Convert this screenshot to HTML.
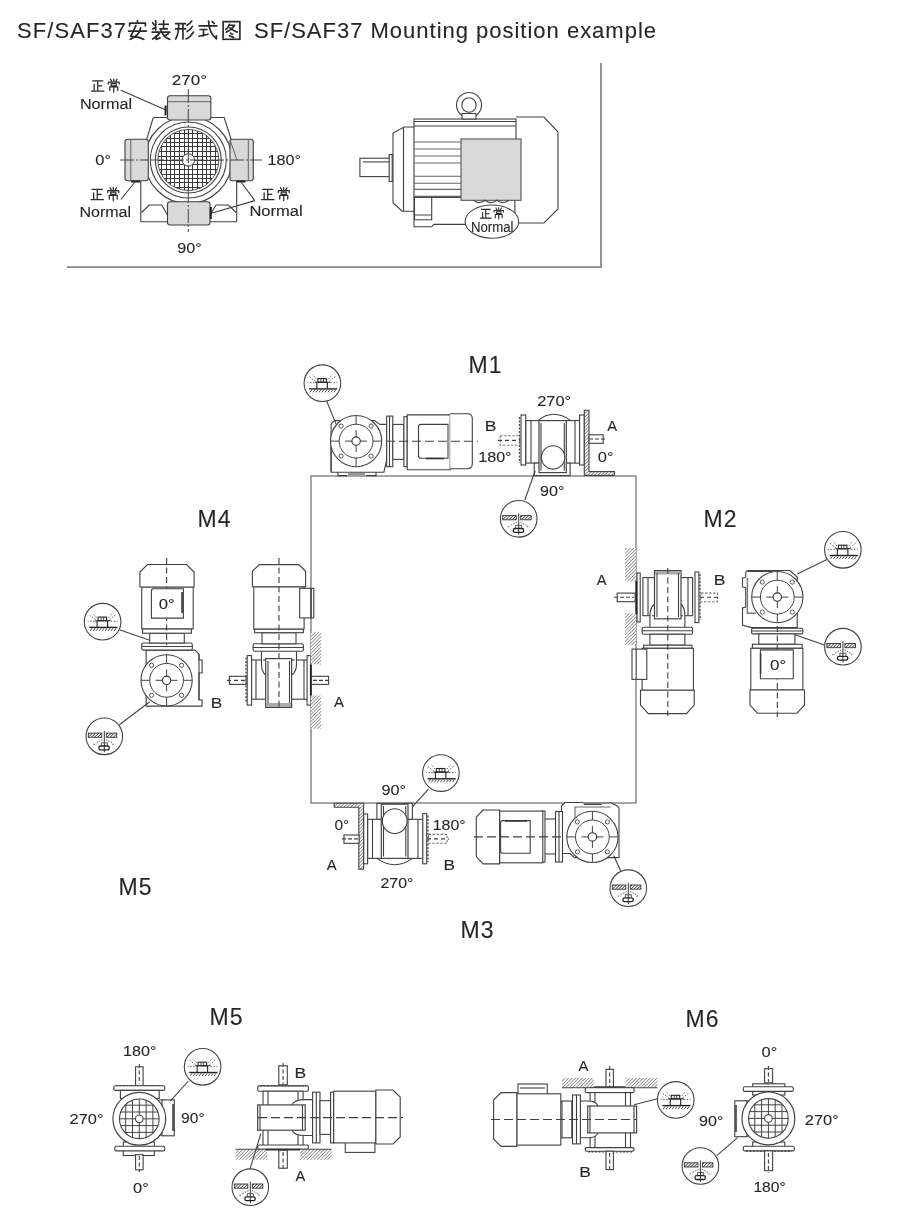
<!DOCTYPE html>
<html><head><meta charset="utf-8">
<style>
html,body{margin:0;padding:0;background:#fff;width:900px;height:1217px;overflow:hidden}
svg{display:block;will-change:transform}
text{font-family:"Liberation Sans",sans-serif;fill:#262626;stroke:#262626;stroke-width:0.1}
.l{fill:none;stroke:#404040;stroke-width:1.1}
.t{fill:none;stroke:#444;stroke-width:1.3}
.f{fill:#fff;stroke:#555;stroke-width:1}
.g{fill:#d9d9d9;stroke:#404040;stroke-width:1.1}
.d{fill:none;stroke:#555;stroke-width:1;stroke-dasharray:7 4}
.cj{fill:none;stroke:#2a2a2a;stroke-width:1.6;stroke-linecap:round;stroke-linejoin:round}
</style></head><body>
<svg width="900" height="1217" viewBox="0 0 900 1217">
<defs>
<pattern id="hatch2" patternUnits="userSpaceOnUse" width="2.2" height="2.2" patternTransform="rotate(45)"><rect width="2.2" height="2.2" fill="#fff"/><path d="M0 0V2.2" stroke="#333" stroke-width="1.5"/></pattern>
<pattern id="hatch" patternUnits="userSpaceOnUse" width="2.4" height="2.4" patternTransform="rotate(45)"><rect width="2.4" height="2.4" fill="#fff"/><path d="M0 0V2.4" stroke="#444" stroke-width="1.05"/></pattern>

<symbol id="c-an" viewBox="0 0 20 20"><path class="cj" d="M10 1V3.5M2.5 6V3.5H17.5V6M8.5 5.5Q7 10 3.5 16Q11 16 16 19M13 8Q12 15 3 19M1.5 11H18.5"/></symbol>
<symbol id="c-zh" viewBox="0 0 20 20"><path class="cj" d="M5 1V10M2 3L3.5 5M2 9L5 7.5M8 4.5H17M12.5 1V9M9 9H16M10 10V11.5M1.5 12H18.5M9 12Q7 16 2 18.5M5.5 15.5V19L9 17.5M11 12.5Q13 17 18.5 19M17 13.5L13 16"/></symbol>
<symbol id="c-xi" viewBox="0 0 20 20"><path class="cj" d="M1.5 4H11M1.5 9H11M4.5 4Q4.5 14 1.5 18.5M8.5 4V18.5M17 1.5Q15 4 12.5 5.5M17.5 6.5Q15.5 10 12.5 11.5M18.5 12Q16 16.5 11.5 18.5"/></symbol>
<symbol id="c-sh" viewBox="0 0 20 20"><path class="cj" d="M1.5 6H18.5M10.5 1.5Q11 13 18 18.5V15.5M14 2L16 4M2.5 9.5H9M5.7 9.5V15.5M1.5 16L10 14"/></symbol>
<symbol id="c-tu" viewBox="0 0 20 20"><path class="cj" d="M2 2H18V19H2ZM8 4.5Q7 8 4.5 9.5M8 5.5H13Q10 10 5 12M8.5 8Q12 11 15.5 12M9 13L11 14M8 15.5L12 17"/></symbol>
<symbol id="c-zheng" viewBox="0 0 20 20"><path class="cj" style="stroke-width:1.75" d="M3 3H17M10 3V17M10 10H15.5M5 8V17M1.5 17H18.5"/></symbol>
<symbol id="c-chang" viewBox="0 0 20 20"><path class="cj" style="stroke-width:1.75" d="M10 1V4M5.5 1.5L7 4M14.5 1.5L13 4M2.5 8V5.5H17.5V8M6.5 7.5H13.5V10.5H6.5ZM4.5 17V12H15.5V17M10 10.5V19.5"/></symbol>
<symbol id="vent" viewBox="-20 -20 40 40" overflow="visible">
<circle cx="0" cy="0" r="18.3" fill="#fff" stroke="#444" stroke-width="1.1"/>
<path d="M-13.3 5.7H14.8" stroke="#222" stroke-width="1.4" fill="none"/>
<path d="M-12.5 9.2L-10.5 6.5M-9.5 9.2L-7.5 6.5M-6.5 9.2L-4.5 6.5M-3.5 9.2L-1.5 6.5M-0.5 9.2L1.5 6.5M2.5 9.2L4.5 6.5M5.5 9.2L7.5 6.5M8.5 9.2L10.5 6.5M11.5 9.2L13.5 6.5" stroke="#555" stroke-width="1" fill="none"/>
<path d="M-5.5 5.6V-1H5V5.6M-7.5 -1H8" stroke="#222" stroke-width="1.1" fill="none"/>
<rect x="-4.5" y="-4.6" width="8.5" height="3.6" fill="none" stroke="#222" stroke-width="1.1"/>
<path d="M-1.5 -4.6V-1M1 -4.6V-1" stroke="#333" stroke-width="0.9" fill="none"/>
<path d="M-7 -2L-13 -6.5M-8 -0.5L-15 -0.5M-6 -4L-10 -9M7 -2L13 -7M8 -0.5L15 -0.5M6 -4L10 -9" stroke="#666" stroke-width="1" stroke-dasharray="1.5 1.5" fill="none"/>
</symbol>
<symbol id="drain" viewBox="-20 -20 40 40" overflow="visible">
<circle cx="0" cy="0" r="18.3" fill="#fff" stroke="#444" stroke-width="1.1"/>
<rect x="-16" y="-3.2" width="13.5" height="4.2" fill="url(#hatch2)" stroke="#333" stroke-width="0.9"/>
<rect x="2" y="-3.2" width="10.5" height="4.2" fill="url(#hatch2)" stroke="#333" stroke-width="0.9"/>
<path d="M0 -5.5V16" stroke="#333" stroke-width="1" fill="none"/>
<rect x="-5.4" y="9.7" width="10.3" height="3.8" rx="1.6" fill="none" stroke="#222" stroke-width="1.3"/>
<path d="M-3 6.5V9.7M3 6.5V9.7M-3 6.5H3" stroke="#444" stroke-width="0.9" fill="none"/>
<path d="M-4 4.5L-9 7M4 4.5L9 7M-11 8H-8M8 8H11M-2 3L-3 5M2 3L3 5" stroke="#666" stroke-width="1" stroke-dasharray="1.5 1.2" fill="none"/>
</symbol>
<symbol id="flg" viewBox="-30 -30 60 60" overflow="visible">
<circle r="25.6" fill="#fff" stroke="#444" stroke-width="1.1"/>
<circle r="16.9" fill="none" stroke="#444" stroke-width="1"/>
<path d="M0 -25.6V-16.9M0 16.9V25.6M-25.6 0H-16.9M16.9 0H25.6M0 -11V11M-11 0H11" stroke="#444" stroke-width="1" fill="none"/>
<circle r="4.2" fill="#fff" stroke="#333" stroke-width="1.1"/>
<g fill="#fff" stroke="#444" stroke-width="0.9"><circle cx="-15" cy="-15" r="2.1"/><circle cx="15" cy="-15" r="2.1"/><circle cx="-15" cy="15" r="2.1"/><circle cx="15" cy="15" r="2.1"/></g>
</symbol>
</defs>

<!-- TITLE -->
<g id="title">
<text x="17" y="38" font-size="22" textLength="109" lengthAdjust="spacing">SF/SAF37</text>
<use href="#c-an" x="127" y="19.5" width="21" height="21"/>
<use href="#c-zh" x="150.5" y="19.5" width="21" height="21"/>
<use href="#c-xi" x="174" y="19.5" width="21" height="21"/>
<use href="#c-sh" x="197.5" y="19.5" width="21" height="21"/>
<use href="#c-tu" x="221" y="19.5" width="21" height="21"/>
<text x="254" y="38" font-size="22" textLength="402" lengthAdjust="spacing">SF/SAF37 Mounting position example</text>
</g>

<!-- TOP FRAME -->
<path d="M67 267.2H601V63" fill="none" stroke="#888" stroke-width="1.8"/>

<!-- BIG SQUARE -->
<rect x="311" y="476" width="325" height="327" fill="none" stroke="#777" stroke-width="1.3"/>

<!-- M LABELS -->
<g font-size="23" letter-spacing="1">
<text x="468.5" y="373">M1</text>
<text x="197.5" y="527">M4</text>
<text x="703.5" y="527">M2</text>
<text x="118.5" y="894.5">M5</text>
<text x="460.5" y="937.5">M3</text>
<text x="209.5" y="1024.5">M5</text>
<text x="685.5" y="1027">M6</text>
</g>

<!-- TOP SECTION -->
<g id="tbdiag">
<clipPath id="gclip"><circle cx="188.3" cy="160" r="30.5"/></clipPath>
<path class="l" d="M153.3 117.5H224.2L237 158M153.3 117.5L146.7 139.2M140.8 181V221.7H167.5M210 221.7H236.7V181M141.7 212.5L149.2 205H161.7L167.5 215M236 212.5L228.5 205H216L210 215" stroke="#444"/>
<circle cx="188.3" cy="160" r="43.5" class="l" stroke="#555"/>
<circle cx="188.3" cy="160" r="38" fill="#fff" stroke="#444" stroke-width="1.1"/>
<circle cx="188.3" cy="160" r="33" fill="#fff" stroke="#444" stroke-width="1.1"/>
<g clip-path="url(#gclip)"><path d="M156.5 128.5V192.5M156.5 128.5H220.5M161.5 128.5V192.5M156.5 133.5H220.5M166.5 128.5V192.5M156.5 138.5H220.5M170.5 128.5V192.5M156.5 142.5H220.5M174.5 128.5V192.5M156.5 146.5H220.5M179.5 128.5V192.5M156.5 151.5H220.5M184.5 128.5V192.5M156.5 156.5H220.5M188.5 128.5V192.5M156.5 160.5H220.5M192.5 128.5V192.5M156.5 164.5H220.5M197.5 128.5V192.5M156.5 169.5H220.5M202.5 128.5V192.5M156.5 174.5H220.5M206.5 128.5V192.5M156.5 178.5H220.5M210.5 128.5V192.5M156.5 182.5H220.5M215.5 128.5V192.5M156.5 187.5H220.5M220.5 128.5V192.5M156.5 192.5H220.5" stroke="#3a3a3a" stroke-width="1" fill="none" shape-rendering="crispEdges"/></g>
<circle cx="188.3" cy="160" r="30.5" fill="none" stroke="#444" stroke-width="0.9"/>
<circle cx="188.3" cy="160" r="6.2" fill="#fff" stroke="#444" stroke-width="1"/>
<rect x="167.5" y="95.8" width="43.3" height="24.2" rx="2.5" class="g" stroke="#444"/>
<path d="M167.5 101.7H210.8" stroke="#555" stroke-width="0.9"/>
<rect x="125" y="139.2" width="23.3" height="41.6" rx="2.5" class="g" stroke="#444"/>
<path d="M130.8 139.2V180.8" stroke="#555" stroke-width="0.9"/>
<rect x="230" y="139.2" width="23.3" height="41.6" rx="2.5" class="g" stroke="#444"/>
<path d="M248.3 139.2V180.8M230 140L237 160" stroke="#555" stroke-width="0.9"/>
<rect x="167.5" y="201.7" width="42.5" height="23.3" rx="2.5" class="g" stroke="#444"/>
<path d="M188.3 89V232M120 160H148M150 160H262" stroke="#444" stroke-width="1" stroke-dasharray="14 2 2 2"/>
<path d="M165.6 105.5V115.5M131 181.5H140M236.5 181.5H245.5M210.8 207V219" stroke="#222" stroke-width="2"/>
<path class="l" stroke="#333" d="M120.9 90.3L167 110.5M120.9 199.5L135.3 181.5M254.8 200.6L240.7 181.5M254.8 200.6L211.3 213.3"/>
</g>
<g id="tblabels" font-size="14">
<use href="#c-zheng" x="90.5" y="78.7" width="14.5" height="14.5"/>
<use href="#c-chang" x="106.5" y="78.2" width="14.5" height="14.5"/>
<use href="#c-zheng" x="90.0" y="187.2" width="14.5" height="14.5"/>
<use href="#c-chang" x="106.0" y="186.7" width="14.5" height="14.5"/>
<use href="#c-zheng" x="260.5" y="187.2" width="14.5" height="14.5"/>
<use href="#c-chang" x="276.5" y="186.7" width="14.5" height="14.5"/>
</g>

<g id="motortop" stroke="#404040" stroke-width="1.1" fill="none">
<rect x="359.9" y="158.2" width="31" height="18.4" fill="#fff"/>
<path d="M363 161.9H389"/>
<rect x="389.2" y="154.6" width="3" height="26.9" fill="#fff"/>
<path d="M414 127H404L393 133V202.7L402.1 211.2H414" fill="#fff"/>
<path d="M403.5 127V211.2"/>
<path d="M516 117H544L558 132V209L544 223H516" fill="#fff"/>
<rect x="414" y="119" width="102" height="78.4" fill="#fff"/>
<path d="M414 121.5H516M414 126H516"/>
<path d="M414 142H461M414 149H461M414 156H461M414 163H461M414 176.2H461M414 183.2H461M414 189.4H461M414 196.4H461" stroke="#666"/>
<path d="M414 197V226.8H431.7L434 224.4H470M414.5 197.2V219.8H431.7V197.2M414.5 215H431.7M514.9 200V221"/>
<circle cx="469" cy="105" r="12.5" fill="#fff"/>
<circle cx="469" cy="105" r="7.2"/>
<rect x="462" y="113.5" width="14" height="5.5" fill="#fff"/>
<rect x="461" y="139" width="60" height="61.3" fill="#d9d9d9" stroke="#555"/>
<path d="M474 200.3Q479 205 485 200.3Q491 205 497 200.3Q503 205 509 200.3"/>
<ellipse cx="491.9" cy="221.6" rx="26.8" ry="16.6" fill="#fff" stroke="#444"/>
</g>
<g font-size="14">
<use href="#c-zheng" x="479.5" y="207.5" width="12.5" height="12.5"/>
<use href="#c-chang" x="492.5" y="207" width="12.5" height="12.5"/>
<text x="471" y="231.5" textLength="42.5" lengthAdjust="spacingAndGlyphs">Normal</text>
</g>

<!-- M1 -->
<g id="m1" stroke="#404040" stroke-width="1.1" fill="none">
<path d="M331.1 472.2V424L334.4 420.6H374.4L380 424.4H386.7V459.4L383.9 472.2Z" fill="#fff"/>
<path d="M331.1 446V471.7M338 472.2V475.6H347M366 475.6H376V472.2" />
<rect x="348" y="473" width="17" height="2.6" fill="#999" stroke="none"/>
<rect x="386.7" y="416.1" width="6.1" height="50.6" fill="#fff"/>
<path d="M389.5 416.1V466.7"/>
<rect x="392.8" y="424.4" width="11.1" height="35" fill="#fff"/>
<rect x="403.9" y="416.7" width="3.3" height="50" fill="#fff"/>
<path d="M407.2 414.9H450.2V469.8H407.2Z" fill="#fff"/>
<path d="M450.2 413.8H467.5Q472.3 413.8 472.3 419V463.5Q472.3 468.7 467.5 468.7H450.2" fill="#fff"/>
<path d="M421 424.4H448V458.2H421Q418.5 458.2 418.5 455.7V427Q418.5 424.4 421 424.4Z" fill="#fff"/>
<path d="M426 458.5H444" stroke="#333" stroke-width="1.6"/>
<path d="M386 441.3H478" stroke-dasharray="9 4"/>
<use href="#flg" x="326.1" y="411.1" width="60" height="60"/>
<path d="M326.7 401.2L336.2 424.4" stroke="#444"/>
<use href="#vent" x="302.4" y="363.2" width="40" height="40"/>
</g>
<g id="m1r" stroke="#404040" stroke-width="1.1" fill="none">
<path d="M538 420.6Q553 408 571 420.6" fill="#fff"/>
<rect x="525.7" y="420.6" width="53.9" height="42.5" fill="#fff"/>
<path d="M531 420.6V463.1M575 420.6V463.1"/>
<rect x="534.2" y="463.1" width="35.9" height="12.5" fill="#fff"/>
<rect x="539" y="420.6" width="27.3" height="52" fill="#fff" stroke="#444" stroke-width="1.2"/>
<path d="M541 423V470.5M564.3 423V470.5"/>
<circle cx="553.1" cy="457.4" r="11.7" fill="#fff"/>
<rect x="521" y="415" width="4.7" height="50" fill="#fff"/>
<path d="M519.5 417V463" stroke-dasharray="2 1.5" stroke="#444" stroke-width="1.3"/>
<rect x="500.2" y="435.7" width="19.8" height="9.5" stroke-dasharray="2.5 1.5" stroke="#777"/>
<path d="M498 440.4H520" stroke-dasharray="4 3"/>
<rect x="579.6" y="415" width="4.7" height="50" fill="#fff"/>
<path d="M584.3 410.2H589V471.6H614.5V475.4H584.3Z" fill="url(#hatch)" stroke="#444"/>
<rect x="589" y="434.8" width="14.2" height="8.5" fill="#fff"/>
<path d="M589 439H606" stroke-dasharray="4 2"/>
<path d="M524.8 500L535.2 470.7" stroke="#444"/>
<use href="#drain" x="498.7" y="498.8" width="40" height="40"/>
</g>


<!-- M4 -->
<g id="m4f" stroke="#404040" stroke-width="1.1" fill="none">
<path d="M146.1 650.1H195L199 654V660H202.1V673H199V700H202.1V706.1H146.1Z" fill="#fff"/>
<path d="M199 654V700"/>
<rect x="141.7" y="643" width="50.6" height="7.1" rx="1.5" fill="#fff"/>
<path d="M141.7 646.5H192.3"/>
<rect x="149.7" y="633.2" width="34.6" height="9.8" fill="#fff"/>
<rect x="142.6" y="628.8" width="48.8" height="4.4" fill="#fff"/>
<rect x="141.7" y="587" width="51.5" height="41.8" fill="#fff"/>
<path d="M147.5 564.5H186.6L194.1 572V587H139.9V572Z" fill="#fff"/>
<path d="M166.6 558V645" stroke-dasharray="6 3.5"/>
<path d="M153.5 588.8H183.4V618.1H151.4V591Q151.4 588.8 153.5 588.8Z" fill="#fff"/>
<path d="M182 592V613" stroke="#333" stroke-width="1.6"/>
<use href="#flg" x="136.6" y="650.3" width="60" height="60"/>
<path d="M119.4 629.7L149.7 640.3M119.4 724.8L149.7 701.7" stroke="#444"/>
<use href="#vent" x="82.6" y="601.7" width="40" height="40"/>
<use href="#drain" x="84.3" y="716.3" width="40" height="40"/>
</g>
<g id="m4s" stroke="#404040" stroke-width="1.1" fill="none">
<rect x="250.9" y="660" width="58.4" height="39.2" fill="#fff"/>
<path d="M256 660V699.2M304 660V699.2"/>
<path d="M261.5 651V664Q261.5 672 265.7 675M296.5 651V664Q296.5 672 291.6 675" fill="#fff"/>
<rect x="265.7" y="658.6" width="25.9" height="48.8" fill="#fff" stroke="#444" stroke-width="1.2"/>
<rect x="266.5" y="703" width="24.5" height="4" fill="#aaa" stroke="none"/>
<path d="M268 661V703M289.5 661V703"/>
<rect x="247.2" y="655.6" width="4.4" height="49.5" fill="#fff"/>
<path d="M246 657.5V703" stroke-dasharray="2 1.5" stroke="#444" stroke-width="1.3"/>
<rect x="229.4" y="676.3" width="16.6" height="8.1" fill="#fff"/>
<path d="M227 680.4H246" stroke-dasharray="4 3"/>
<rect x="307.1" y="655.6" width="3.7" height="49.5" fill="#fff"/>
<rect x="310.8" y="631.9" width="10.4" height="32.6" fill="url(#hatch)" stroke="none"/>
<rect x="310.8" y="695.5" width="10.4" height="33.3" fill="url(#hatch)" stroke="none"/>
<path d="M310.8 664.5V695.5" stroke="#222" stroke-width="1.8"/>
<rect x="311.5" y="676.3" width="17.1" height="8.1" fill="#fff"/>
<path d="M313 680.4H331" stroke-dasharray="4 2"/>
<rect x="253.1" y="643.8" width="50.3" height="7.4" rx="1.5" fill="#fff"/>
<path d="M253.1 647.5H303.4"/>
<rect x="262" y="632.7" width="34" height="11.1" fill="#fff"/>
<rect x="254.6" y="629" width="48.8" height="3.7" fill="#fff"/>
<rect x="253.8" y="586.8" width="50.3" height="42.2" fill="#fff"/>
<path d="M259.2 564.6H298.8L305.6 571.3V586.8H252.4V571.3Z" fill="#fff"/>
<rect x="299.7" y="588.3" width="14.1" height="29.6" fill="#fff"/>
<path d="M311 588.3V617.9" stroke="#333" stroke-width="1.6"/>
<path d="M279 558V708" stroke-dasharray="6 3.5"/>
</g>


<!-- M2 -->
<g id="m2s" stroke="#404040" stroke-width="1.1" fill="none">
<rect x="642.9" y="577.6" width="49.7" height="38.1" fill="#fff"/>
<path d="M648 577.6V615.7M688 577.6V615.7"/>
<path d="M649.9 627.3V616Q649.9 608 654.5 604M684.9 627.3V616Q684.9 608 681 604" fill="#fff"/>
<rect x="654.5" y="570.6" width="26.5" height="48.2" fill="#fff" stroke="#444" stroke-width="1.2"/>
<rect x="655" y="571" width="25.5" height="3.5" fill="#aaa" stroke="none"/>
<path d="M657 573V617M678.5 573V617"/>
<rect x="695" y="572" width="3.9" height="50.6" fill="#fff"/>
<path d="M700 574V620" stroke-dasharray="2 1.5" stroke="#444" stroke-width="1.3"/>
<rect x="701" y="593.1" width="16.5" height="8.6" stroke-dasharray="2.5 1.5" stroke="#777" fill="#fff"/>
<path d="M700 597.3H720" stroke-dasharray="4 3"/>
<rect x="637" y="572.9" width="3.2" height="49" fill="#fff"/>
<rect x="625" y="548" width="11" height="33.4" fill="url(#hatch)" stroke="none"/>
<rect x="625" y="613.3" width="11" height="32" fill="url(#hatch)" stroke="none"/>
<path d="M636.4 581V614" stroke="#222" stroke-width="1.8"/>
<rect x="617.2" y="593.1" width="17.9" height="8.6" fill="#fff"/>
<path d="M614 597.3H634" stroke-dasharray="4 2"/>
<rect x="642.1" y="627.3" width="50.5" height="7" rx="1.5" fill="#fff"/>
<path d="M642.1 630.8H692.6"/>
<rect x="649.9" y="634.3" width="35" height="10.9" fill="#fff"/>
<rect x="643.7" y="645.2" width="48.2" height="3.1" fill="#fff"/>
<rect x="642.1" y="648.3" width="51.3" height="42" fill="#fff"/>
<path d="M640.5 690.3H694.2V705L686.5 713.6H648.3L640.5 705Z" fill="#fff"/>
<rect x="632" y="649.1" width="14.8" height="30.3" fill="#fff"/>
<path d="M636.2 649.1V679.4" stroke="#555" stroke-width="1.3"/>
<path d="M667.8 568V716" stroke-dasharray="6 3.5"/>
</g>
<g id="m2f" stroke="#404040" stroke-width="1.1" fill="none">
<path d="M747.4 570.5H790L797.2 577V627.6H751.4L742.5 625V608L745.7 607V587.5L742.5 587V578L745.7 577.5V572.5Z" fill="#fff"/>
<path d="M747.4 571H772.8" stroke="#444" stroke-width="2"/>
<path d="M747.4 578V613.3H756" stroke="#777" stroke-width="1.4"/>
<rect x="751.6" y="628.3" width="51.3" height="5.6" rx="1.5" fill="#fff"/>
<path d="M751.6 631H802.9"/>
<rect x="758.8" y="633.9" width="36.1" height="10.4" fill="#fff"/>
<rect x="752.4" y="644.3" width="49.7" height="4" fill="#fff"/>
<rect x="750.8" y="648.3" width="52.1" height="41.7" fill="#fff"/>
<path d="M750 690H804.5V705L797 713.2H757.5L750 705Z" fill="#fff"/>
<path d="M777.3 626V717" stroke-dasharray="6 3.5"/>
<path d="M760.4 649.9H793.3V678.8H760.4Z" fill="#fff"/>
<path d="M760.6 653V674" stroke="#333" stroke-width="1.5"/>
<use href="#flg" x="747.3" y="567.1" width="60" height="60"/>
<path d="M826.9 559.4L797.3 573.9M824.5 645.1L794.9 634.7" stroke="#444"/>
<use href="#vent" x="822.9" y="529.8" width="40" height="40"/>
<use href="#drain" x="822.9" y="626.7" width="40" height="40"/>
</g>


<!-- M3 -->
<g id="m3l" stroke="#404040" stroke-width="1.1" fill="none">
<path d="M376.9 858.4Q394.7 871 412.4 858.4" fill="#fff"/>
<rect x="367.6" y="819.3" width="55.5" height="39.1" fill="#fff"/>
<path d="M372.5 819.3V858.4M418 819.3V858.4"/>
<rect x="376.9" y="803.3" width="35.5" height="16" fill="#fff"/>
<rect x="381.3" y="804.2" width="26.7" height="54.2" fill="#fff" stroke="#444" stroke-width="1.2"/>
<path d="M383.5 806V856.5M405.8 806V856.5"/>
<circle cx="394.7" cy="821.1" r="12.4" fill="#fff"/>
<rect x="422.8" y="813.6" width="3.9" height="50.2" fill="#fff"/>
<path d="M428 815.5V862" stroke-dasharray="2 1.5" stroke="#444" stroke-width="1.3"/>
<rect x="428.5" y="834.4" width="18.6" height="8.9" stroke-dasharray="2.5 1.5" stroke="#777" fill="#fff"/>
<path d="M427 838.9H449" stroke-dasharray="4 3"/>
<rect x="363.6" y="814" width="4" height="49.8" fill="#fff"/>
<path d="M334.2 803.3H363.6V869.1H358.8V807.2H334.2Z" fill="url(#hatch)" stroke="#444"/>
<rect x="344" y="835" width="15.1" height="8.3" fill="#fff"/>
<path d="M342 838.9H359" stroke-dasharray="4 2"/>
<path d="M428.4 789.1L412.4 806.9" stroke="#444"/>
<use href="#vent" x="420.9" y="753.1" width="40" height="40"/>
</g>
<g id="m3r" stroke="#404040" stroke-width="1.1" fill="none">
<path d="M561.5 811V806L565 802.5H583L584.5 804.5H601L602 802.5H610L617.5 806L619 808V857.6H574.5L570 853.5H561.5Z" fill="#fff"/>
<path d="M575 831V807H610.5" stroke="#666"/>
<path d="M601 803H610M583 803H601" stroke="#888" stroke-width="2"/>
<rect x="555.5" y="811.5" width="7" height="50.5" fill="#fff"/>
<path d="M559 811.5V862"/>
<rect x="544" y="819" width="11.5" height="35" fill="#fff"/>
<rect x="541.8" y="811" width="3.2" height="51" fill="#fff"/>
<rect x="499.6" y="811.1" width="43.2" height="51.7" fill="#fff"/>
<path d="M499.6 810H483L476.3 817V856.5L483 863.9H499.6Z" fill="#fff"/>
<path d="M502.6 820.6H530.2V853.3H502.6Q500.6 853.3 500.6 851V823Q500.6 820.6 502.6 820.6Z" fill="#fff"/>
<path d="M505 821H527" stroke="#333" stroke-width="1.5"/>
<path d="M474 836.9H562" stroke-dasharray="9 4"/>
<use href="#flg" x="562.4" y="806.9" width="60" height="60"/>
<path d="M620.9 871.3L613.6 855.4" stroke="#444"/>
<use href="#drain" x="608.3" y="868.2" width="40" height="40"/>
</g>


<!-- M5 bottom -->
<clipPath id="g5c"><circle cx="139.3" cy="1118.8" r="19.8"/></clipPath>
<clipPath id="g6c"><circle cx="768.4" cy="1118.4" r="19.8"/></clipPath>
<g id="m5l" stroke="#404040" stroke-width="1.1" fill="none">
<rect x="135.6" y="1066.8" width="7.5" height="18.9" fill="#fff"/>
<path d="M139.3 1064V1084" stroke-dasharray="4 2.5"/>
<rect x="113.8" y="1085.7" width="51" height="4.7" rx="1.5" fill="#fff"/>
<path d="M116 1085.5H162" stroke-dasharray="2 1.5" stroke="#444" stroke-width="1.2"/>
<rect x="120.4" y="1090.4" width="38.8" height="8" fill="#fff"/>
<rect x="123.3" y="1142" width="31.1" height="13.5" fill="#fff"/>
<rect x="114.8" y="1146.2" width="50" height="4.7" rx="1.5" fill="#fff"/>
<rect x="135.6" y="1154.7" width="7.5" height="15.1" fill="#fff"/>
<path d="M139.3 1156V1172" stroke-dasharray="4 2.5"/>
<path d="M159 1100H165V1135H159" fill="#fff"/>
<rect x="162" y="1099.9" width="12.3" height="35.9" fill="#fff"/>
<path d="M173 1104V1131" stroke="#333" stroke-width="1.5"/>
<circle cx="139.3" cy="1118.8" r="26.4" fill="#fff" stroke="#444" stroke-width="1.2"/>
<circle cx="139.3" cy="1118.8" r="19.8" fill="#fff" stroke="#444" stroke-width="1.1"/>
<g clip-path="url(#g5c)"><path d="M118.9 1098.0V1139.6M118.5 1098.4H160.1M125.7 1098.0V1139.6M118.5 1105.2H160.1M132.5 1098.0V1139.6M118.5 1112.0H160.1M139.3 1098.0V1139.6M118.5 1118.8H160.1M146.1 1098.0V1139.6M118.5 1125.6H160.1M152.9 1098.0V1139.6M118.5 1132.4H160.1M159.7 1098.0V1139.6M118.5 1139.2H160.1" stroke="#444" stroke-width="1"/></g>
<circle cx="139.3" cy="1118.8" r="3.8" fill="#fff" stroke="#444"/>
<path d="M188.4 1081L170.5 1100.8" stroke="#444"/>
<use href="#vent" x="182.6" y="1046.8" width="40" height="40"/>
</g>
<g id="m5r" stroke="#404040" stroke-width="1.1" fill="none">
<rect x="278.8" y="1065.8" width="8.5" height="19" fill="#fff"/>
<path d="M283.1 1063V1084" stroke-dasharray="4 2.5"/>
<rect x="257.7" y="1085.9" width="50.7" height="5.3" rx="1.5" fill="#fff"/>
<path d="M260 1085.7H306" stroke-dasharray="2 1.5" stroke="#444" stroke-width="1.2"/>
<rect x="263" y="1091.2" width="40.1" height="54.8" fill="#fff"/>
<path d="M268 1091.2V1146M298 1091.2V1146"/>
<path d="M292 1104.9Q294 1099.6 305.2 1099.6H312.6V1135.5H305.2Q294 1135.5 292 1130.2" fill="#fff"/>
<rect x="257.7" y="1104.9" width="47.5" height="25.3" fill="#fff" stroke="#444" stroke-width="1.2"/>
<path d="M260 1104.9V1130.2M302.5 1104.9V1130.2"/>
<rect x="312.6" y="1092.2" width="7.4" height="50.7" fill="#fff"/>
<path d="M316.3 1092.2V1142.9"/>
<rect x="320" y="1100.7" width="10.6" height="33.7" fill="#fff"/>
<rect x="330.6" y="1092.2" width="3.1" height="50.7" fill="#fff"/>
<rect x="345.3" y="1138.7" width="29.6" height="13.7" fill="#fff"/>
<rect x="333.7" y="1091.2" width="42.2" height="51.7" fill="#fff"/>
<path d="M375.9 1090H393L400.2 1097V1137L393 1144H375.9Z" fill="#fff"/>
<rect x="257.7" y="1145" width="50.7" height="4.2" rx="1.5" fill="#fff"/>
<rect x="235.6" y="1149.2" width="31.6" height="10.6" fill="url(#hatch)" stroke="none"/>
<rect x="300" y="1149.2" width="31.6" height="10.6" fill="url(#hatch)" stroke="none"/>
<path d="M235.6 1149.2H331.6" stroke="#444"/>
<path d="M266 1149.7H300" stroke="#333" stroke-width="1.8"/>
<rect x="278.8" y="1150.3" width="8.5" height="17.9" fill="#fff"/>
<path d="M283.1 1152V1171" stroke-dasharray="4 2.5"/>
<path d="M258 1117.6H403" stroke-dasharray="9 4"/>
<path d="M249.9 1169.3L260.9 1133.4" stroke="#444"/>
<use href="#drain" x="230.3" y="1167.2" width="40" height="40"/>
</g>


<!-- M6 -->
<g id="m6l" stroke="#404040" stroke-width="1.1" fill="none">
<rect x="606" y="1069.3" width="7.4" height="18.4" fill="#fff"/>
<path d="M609.7 1066V1087" stroke-dasharray="4 2.5"/>
<rect x="562" y="1077.9" width="31.8" height="9.8" fill="url(#hatch)" stroke="none"/>
<rect x="625.6" y="1077.9" width="31.8" height="9.8" fill="url(#hatch)" stroke="none"/>
<path d="M562 1087.7H657.4" stroke="#444"/>
<path d="M593.8 1087.2H625.6" stroke="#333" stroke-width="1.8"/>
<rect x="585.2" y="1087.7" width="48.9" height="4.9" rx="1.5" fill="#fff"/>
<rect x="590.1" y="1092.6" width="40.4" height="55" fill="#fff"/>
<path d="M595 1092.6V1147.6M625.5 1092.6V1147.6"/>
<path d="M598 1106Q596 1101 588 1101H580.4V1137.8H588Q596 1137.8 598 1132.9" fill="#fff"/>
<rect x="587.7" y="1106" width="48.9" height="26.9" fill="#fff" stroke="#444" stroke-width="1.2"/>
<path d="M590 1106V1132.9M634 1106V1132.9"/>
<rect x="585.2" y="1147.6" width="48.9" height="3.6" rx="1.5" fill="#fff"/>
<path d="M588 1151.8H632" stroke-dasharray="2 1.5" stroke="#444" stroke-width="1.2"/>
<rect x="606" y="1151.2" width="7.4" height="18.4" fill="#fff"/>
<path d="M609.7 1153V1172" stroke-dasharray="4 2.5"/>
<rect x="572.5" y="1095" width="7.9" height="48.9" fill="#fff"/>
<path d="M576.5 1095V1143.9"/>
<rect x="559.6" y="1101" width="12.2" height="36.8" fill="#fff"/>
<path d="M562 1101V1137.8"/>
<rect x="518" y="1084" width="29.3" height="14.7" fill="#fff"/>
<path d="M520 1088H545"/>
<rect x="516.8" y="1093.8" width="44" height="51.3" fill="#fff"/>
<path d="M516.8 1092.6H501L493.6 1100V1139L501 1146.4H516.8Z" fill="#fff"/>
<path d="M491 1119.5H637" stroke-dasharray="9 4"/>
<path d="M657.4 1098.7L634.1 1104.8" stroke="#444"/>
<use href="#vent" x="655.7" y="1079.9" width="40" height="40"/>
</g>
<g id="m6r" stroke="#404040" stroke-width="1.1" fill="none">
<rect x="764.6" y="1068.7" width="8" height="14.2" fill="#fff"/>
<path d="M768.4 1066V1082" stroke-dasharray="4 2.5"/>
<rect x="752.7" y="1083.8" width="32.1" height="11.2" fill="#fff"/>
<rect x="743.3" y="1086.7" width="50" height="4.7" rx="1.5" fill="#fff"/>
<rect x="752.7" y="1142" width="32.1" height="6" fill="#fff"/>
<rect x="743.3" y="1146.2" width="51" height="4.7" rx="1.5" fill="#fff"/>
<path d="M746 1151.2H792" stroke-dasharray="2 1.5" stroke="#444" stroke-width="1.2"/>
<rect x="764.6" y="1150.9" width="8" height="19.8" fill="#fff"/>
<path d="M768.4 1153V1173" stroke-dasharray="4 2.5"/>
<path d="M750 1101H744V1136H750" fill="#fff"/>
<rect x="734.8" y="1100.8" width="12.2" height="35.9" fill="#fff"/>
<path d="M736 1105V1132" stroke="#333" stroke-width="1.5"/>
<circle cx="768.4" cy="1118.4" r="26.4" fill="#fff" stroke="#444" stroke-width="1.2"/>
<circle cx="768.4" cy="1118.4" r="19.8" fill="#fff" stroke="#444" stroke-width="1.1"/>
<g clip-path="url(#g6c)"><path d="M748.0 1097.6V1139.2M747.6 1098.0H789.2M754.8 1097.6V1139.2M747.6 1104.8H789.2M761.6 1097.6V1139.2M747.6 1111.6H789.2M768.4 1097.6V1139.2M747.6 1118.4H789.2M775.2 1097.6V1139.2M747.6 1125.2H789.2M782.0 1097.6V1139.2M747.6 1132.0H789.2M788.8 1097.6V1139.2M747.6 1138.8H789.2" stroke="#444" stroke-width="1"/></g>
<circle cx="768.4" cy="1118.4" r="3.8" fill="#fff" stroke="#444"/>
<path d="M716.8 1155.6L737.6 1137.7" stroke="#444"/>
<use href="#drain" x="680.4" y="1146" width="40" height="40"/>
</g>




<!--SECTIONS-->
<g id="labels">
<text x="171.8" y="84.5" font-size="14" textLength="35.2" lengthAdjust="spacingAndGlyphs">270°</text>
<text x="95.3" y="164.5" font-size="14" textLength="15.7" lengthAdjust="spacingAndGlyphs">0°</text>
<text x="267.5" y="164.5" font-size="14" textLength="33.4" lengthAdjust="spacingAndGlyphs">180°</text>
<text x="177.2" y="252.5" font-size="14" textLength="24.4" lengthAdjust="spacingAndGlyphs">90°</text>
<text x="79.9" y="108.6" font-size="14" textLength="52.2" lengthAdjust="spacingAndGlyphs">Normal</text>
<text x="79.4" y="217.3" font-size="14" textLength="51.7" lengthAdjust="spacingAndGlyphs">Normal</text>
<text x="249.4" y="216.0" font-size="14" textLength="53.2" lengthAdjust="spacingAndGlyphs">Normal</text>
<text x="537.2" y="405.5" font-size="15" textLength="33.9" lengthAdjust="spacingAndGlyphs">270°</text>
<text x="484.7" y="431.4" font-size="15.5" textLength="11.7" lengthAdjust="spacingAndGlyphs">B</text>
<text x="607.2" y="431.4" font-size="15.5" textLength="9.9" lengthAdjust="spacingAndGlyphs">A</text>
<text x="478.2" y="462.2" font-size="15" textLength="33.4" lengthAdjust="spacingAndGlyphs">180°</text>
<text x="597.8" y="462.2" font-size="15" textLength="15.8" lengthAdjust="spacingAndGlyphs">0°</text>
<text x="540.0" y="496.2" font-size="15" textLength="24.4" lengthAdjust="spacingAndGlyphs">90°</text>
<text x="158.7" y="609.2" font-size="15" textLength="16.0" lengthAdjust="spacingAndGlyphs">0°</text>
<text x="210.8" y="707.9" font-size="15.5" textLength="11.5" lengthAdjust="spacingAndGlyphs">B</text>
<text x="334.0" y="707.0" font-size="15.5" textLength="9.9" lengthAdjust="spacingAndGlyphs">A</text>
<text x="596.8" y="584.9" font-size="15.5" textLength="9.8" lengthAdjust="spacingAndGlyphs">A</text>
<text x="713.8" y="584.9" font-size="15.5" textLength="11.7" lengthAdjust="spacingAndGlyphs">B</text>
<text x="770.1" y="670.0" font-size="15" textLength="16.2" lengthAdjust="spacingAndGlyphs">0°</text>
<text x="381.4" y="795.3" font-size="15" textLength="24.5" lengthAdjust="spacingAndGlyphs">90°</text>
<text x="334.5" y="830.0" font-size="15" textLength="14.8" lengthAdjust="spacingAndGlyphs">0°</text>
<text x="432.7" y="829.7" font-size="15" textLength="33.0" lengthAdjust="spacingAndGlyphs">180°</text>
<text x="326.7" y="869.9" font-size="15.5" textLength="9.9" lengthAdjust="spacingAndGlyphs">A</text>
<text x="443.6" y="870.1" font-size="15.5" textLength="11.5" lengthAdjust="spacingAndGlyphs">B</text>
<text x="380.5" y="887.8" font-size="15" textLength="32.9" lengthAdjust="spacingAndGlyphs">270°</text>
<text x="123.0" y="1056.4" font-size="15" textLength="33.4" lengthAdjust="spacingAndGlyphs">180°</text>
<text x="69.6" y="1123.5" font-size="15" textLength="33.9" lengthAdjust="spacingAndGlyphs">270°</text>
<text x="181.1" y="1122.6" font-size="15" textLength="23.5" lengthAdjust="spacingAndGlyphs">90°</text>
<text x="133.1" y="1193.4" font-size="15" textLength="15.7" lengthAdjust="spacingAndGlyphs">0°</text>
<text x="294.4" y="1077.8" font-size="15.5" textLength="11.7" lengthAdjust="spacingAndGlyphs">B</text>
<text x="295.6" y="1181.3" font-size="15.5" textLength="9.8" lengthAdjust="spacingAndGlyphs">A</text>
<text x="578.5" y="1071.0" font-size="15.5" textLength="9.9" lengthAdjust="spacingAndGlyphs">A</text>
<text x="579.2" y="1177.3" font-size="15.5" textLength="11.7" lengthAdjust="spacingAndGlyphs">B</text>
<text x="761.6" y="1057.4" font-size="15" textLength="15.7" lengthAdjust="spacingAndGlyphs">0°</text>
<text x="699.0" y="1126.3" font-size="15" textLength="24.4" lengthAdjust="spacingAndGlyphs">90°</text>
<text x="804.8" y="1125.4" font-size="15" textLength="33.9" lengthAdjust="spacingAndGlyphs">270°</text>
<text x="753.4" y="1191.5" font-size="15" textLength="32.3" lengthAdjust="spacingAndGlyphs">180°</text>
</g>
</svg>
</body></html>
